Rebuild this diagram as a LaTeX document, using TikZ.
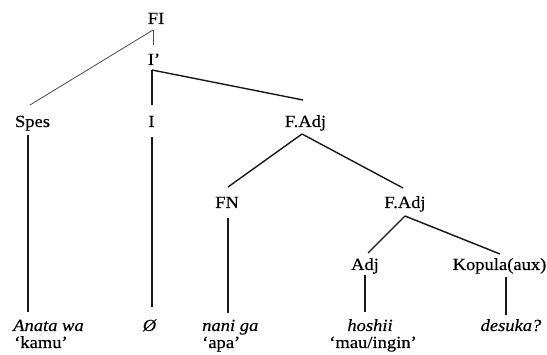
\documentclass[tikz,border=0pt]{standalone}
\usepackage{fontspec}
\setmainfont[FakeStretch=1.09,FakeBold=0.4]{Liberation Serif}
\usetikzlibrary{calc}
\begin{document}
\begin{tikzpicture}[x=1pt,y=-1pt,
  lab/.style={inner sep=0pt, font=\fontsize{17}{20}\selectfont, text=black},
  edge/.style={line width=1.4pt, black!90},
  thin/.style={line width=0.8pt, black!70}]
\useasboundingbox[fill=white] (0,0) rectangle (547,355);
% nodes
\node[lab, anchor=base] (fi) at (156,24) {FI};
\node[lab, anchor=base] (ip) at (154,65) {I’};
\node[lab, anchor=base] (spes) at (32.5,127) {Spes};
\node[lab, anchor=base] (i) at (151.5,127) {I};
\node[lab, anchor=base] (fadj) at (305.5,127) {F.Adj};
\node[lab, anchor=base] (fn) at (227,208) {FN};
\node[lab, anchor=base] (fadjb) at (405,208) {F.Adj};
\node[lab, anchor=base] (adj) at (365,270) {Adj};
\node[lab, anchor=base] (kop) at (499.5,270) {Kopula(aux)};
\node[lab, anchor=base west] (anata) at (13,331) {\itshape Anata wa};
\node[lab, anchor=base west] (kamu) at (14,348) {‘kamu’};
\node[lab, anchor=base] (empty) at (149.5,331) {\itshape Ø};
\node[lab, anchor=base west] (nani) at (202,331) {\itshape nani ga};
\node[lab, anchor=base west] (apa) at (202,348) {‘apa’};
\node[lab, anchor=base] (hoshii) at (370,331) {\itshape hoshii};
\node[lab, anchor=base] (mau) at (373,348) {‘mau/ingin’};
\node[lab, anchor=base] (desuka) at (511,331) {\itshape desuka?};
% connectors
\draw[thin] ($(fi.base)+(-3,6)$) -- ($(spes.base)+(-2.5,-22)$);
\draw[thin] ($(fi.base)+(-3,6)$) -- ($(ip.base)+(-1,-20)$);
\draw[edge] ($(ip.base)+(-2,5)$) -- ($(i.base)+(0.5,-22)$);
\draw[edge] ($(ip.base)+(-2,5)$) -- ($(fadj.base)+(-2.5,-27)$);
\draw[edge] ($(i.base)+(0.5,10)$) -- ($(empty.base)+(2.5,-24)$);
\draw[edge] ($(spes.base)+(-4.5,8)$) -- ($(anata.base west)+(15,-19)$);
\draw[edge] ($(fadj.base)+(-3.5,7)$) -- ($(fn.base)+(1,-21)$);
\draw[edge] ($(fadj.base)+(-3.5,7)$) -- ($(fadjb.base)+(-2,-20)$);
\draw[edge] ($(fn.base)+(1,10)$) -- ($(nani.base west)+(26,-18)$);
\draw[edge] ($(fadjb.base)+(0,8)$) -- ($(adj.base)+(3,-17)$);
\draw[edge] ($(fadjb.base)+(0,8)$) -- ($(kop.base)+(0.5,-16)$);
\draw[edge] ($(adj.base)+(0,5)$) -- ($(hoshii.base)+(-5,-19)$);
\draw[edge] ($(kop.base)+(6.5,7)$) -- ($(desuka.base)+(-5,-16)$);
\end{tikzpicture}
\end{document}
